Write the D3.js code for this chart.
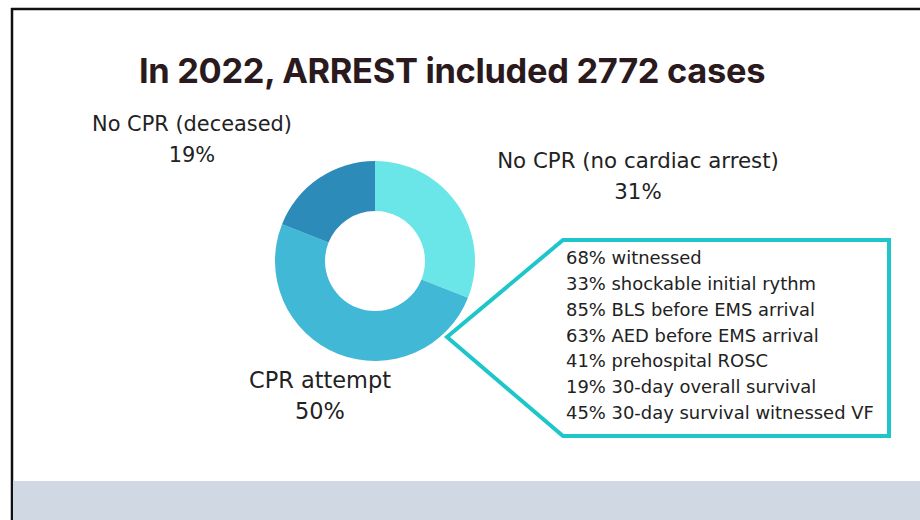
<!DOCTYPE html>
<html><head><meta charset="utf-8">
<script src="https://cdn.jsdelivr.net/npm/d3@7"></script>
<style>body{margin:0;background:#fff}svg{display:block}</style>
</head><body>
<svg id="c" width="920" height="520"></svg>
<script>
const title = "In 2022, ARREST included 2772 cases";
const categories = ["No CPR (no cardiac arrest)", "CPR attempt", "No CPR (deceased)"];
const values = [31, 50, 19];
const colors = ["#6ae6e8", "#42b8d7", "#2d8bba"];
const calloutLines = [
  "68% witnessed",
  "33% shockable initial rythm",
  "85% BLS before EMS arrival",
  "63% AED before EMS arrival",
  "41% prehospital ROSC",
  "19% 30-day overall survival",
  "45% 30-day survival witnessed VF"
];

const svg = d3.select("#c");
const font = "Inter, 'Open Sans', sans-serif";
const bodyFont = "'DejaVu Sans', 'Open Sans', sans-serif";

// frame
svg.append("line").attr("x1",11).attr("x2",920).attr("y1",9).attr("y2",9).attr("stroke","#111").attr("stroke-width",2.5);
svg.append("line").attr("x1",12).attr("x2",12).attr("y1",8).attr("y2",520).attr("stroke","#111").attr("stroke-width",2.5);
svg.append("rect").attr("x",13).attr("y",481).attr("width",907).attr("height",39).attr("fill","#cfd8e3");

// fit text helper
function fit(sel, w){
  const l = sel.node().getComputedTextLength();
  const fs = parseFloat(sel.attr("font-size"));
  sel.attr("font-size", fs * w / l);
}

const t = svg.append("text").attr("x",452).attr("y",83).attr("text-anchor","middle")
  .attr("font-family",font).attr("font-weight",700).attr("font-size",30)
  .attr("fill","#2a1a1d").attr("letter-spacing",-0.3).text(title);
fit(t, 625);

// donut
const cx = 375, cy = 261, R = 100, r = 50;
const pie = d3.pie().sort(null).value(d=>d)(values);
const arc = d3.arc().innerRadius(r).outerRadius(R);
const g = svg.append("g").attr("transform",`translate(${cx},${cy})`);
g.selectAll("path").data(pie).join("path").attr("d",arc).attr("fill",(d,i)=>colors[i]);

// labels
const labelPos = [[638,168],[320,388],[192,131]];
const labelW = [282, 142, 200];
categories.forEach((c,i)=>{
  const [x,y] = labelPos[i];
  const a = svg.append("text").attr("x",x).attr("y",y).attr("text-anchor","middle")
    .attr("font-family",bodyFont).attr("font-size",19).attr("fill","#222").text(c);
  fit(a, labelW[i]);
  svg.append("text").attr("x",x).attr("y",y+31).attr("text-anchor","middle")
    .attr("font-family",bodyFont).attr("font-size",a.attr("font-size")).attr("fill","#222").text(values[i]+"%");
});

// callout
const pts = [[447,337],[563,240],[889,240],[889,436],[563,436]];
svg.append("path").attr("d", d3.line()(pts)+"Z").attr("fill","none")
  .attr("stroke","#1ec6c9").attr("stroke-width",4).attr("stroke-linejoin","miter");
const ys = d3.scalePoint().domain(d3.range(calloutLines.length)).range([264,419]);
const probe = svg.append("text").attr("font-family",bodyFont).attr("font-size",16).text(calloutLines[6]);
fit(probe, 308);
const cfs = probe.attr("font-size");
probe.remove();
calloutLines.forEach((s,i)=>{
  svg.append("text").attr("x",566).attr("y",ys(i)).attr("font-family",bodyFont)
    .attr("font-size",cfs).attr("fill","#222").text(s);
});
</script>
</body></html>
